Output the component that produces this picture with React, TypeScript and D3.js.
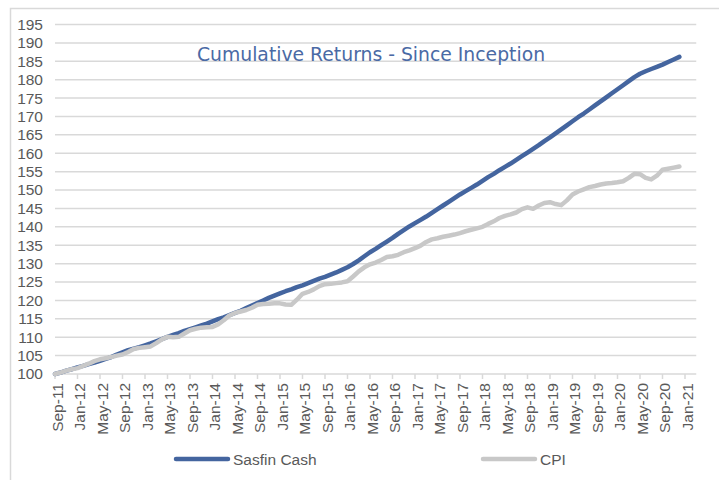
import * as d3 from "d3";

// month index 0 = Sep-11, last point = Dec-20
const sasfinCash = [
  100.0, 100.4, 100.9, 101.3, 101.8, 102.2, 102.7, 103.1, 103.6, 104.1, 104.6, 105.3,
  105.9, 106.5, 106.9, 107.3, 107.8, 108.3, 108.9, 109.5, 110.1, 110.6, 111.1, 111.7,
  112.2, 112.7, 113.2, 113.7, 114.3, 114.9, 115.4, 116.0, 116.6, 117.2, 117.9, 118.6,
  119.3, 120.0, 120.7, 121.3, 121.9, 122.5, 123.0, 123.6, 124.1, 124.7, 125.3, 125.9,
  126.4, 127.0, 127.6, 128.3, 129.0, 129.9, 130.9, 132.0, 133.1, 134.0, 135.0, 136.0,
  137.0, 138.1, 139.1, 140.1, 141.0, 141.9, 142.8, 143.8, 144.8, 145.8, 146.8, 147.8,
  148.8, 149.7, 150.6, 151.5, 152.5, 153.5, 154.4, 155.4, 156.3, 157.2, 158.2, 159.2,
  160.2, 161.2, 162.2, 163.3, 164.3, 165.4, 166.5, 167.6, 168.7, 169.8, 170.8, 171.9,
  173.0, 174.1, 175.2, 176.3, 177.4, 178.5, 179.6, 180.7, 181.6, 182.3, 182.9, 183.5,
  184.1, 184.8, 185.5, 186.2,
];

const cpi = [
  100.0, 100.4, 100.9, 101.3, 101.6, 102.2, 102.8, 103.5, 104.0, 104.3, 104.6, 105.0,
  105.3, 106.0, 106.8, 107.1, 107.3, 107.5, 108.4, 109.4, 110.1, 110.0, 110.1, 111.0,
  111.9, 112.3, 112.6, 112.7, 112.8, 113.5, 114.6, 115.9, 116.6, 117.0, 117.4, 118.0,
  118.8, 119.0, 119.1, 119.2, 119.2, 118.9, 118.8, 120.2, 121.8, 122.3, 123.0, 123.9,
  124.4, 124.5, 124.7, 124.9, 125.2, 126.5, 127.9, 129.0, 129.8, 130.3, 131.0, 131.8,
  132.0, 132.4, 133.1, 133.6, 134.2, 134.9, 135.9, 136.6, 136.9, 137.3, 137.6, 137.9,
  138.3, 138.8, 139.2, 139.6, 140.0, 140.8, 141.5, 142.4, 143.0, 143.4, 143.9, 144.8,
  145.3, 144.9, 145.8, 146.5, 146.7, 146.2, 145.9, 147.2, 148.8, 149.6, 150.2, 150.8,
  151.1, 151.5, 151.8, 151.9, 152.1, 152.4, 153.3, 154.4, 154.3, 153.3, 152.9, 153.9,
  155.5, 155.8, 156.1, 156.4,
];

// one label every 4 months
const xTickLabels = [
  "Sep-11", "Jan-12", "May-12", "Sep-12", "Jan-13", "May-13", "Sep-13", "Jan-14",
  "May-14", "Sep-14", "Jan-15", "May-15", "Sep-15", "Jan-16", "May-16", "Sep-16",
  "Jan-17", "May-17", "Sep-17", "Jan-18", "May-18", "Sep-18", "Jan-19", "May-19",
  "Sep-19", "Jan-20", "May-20", "Sep-20", "Jan-21",
];

const yTicks = d3.range(100, 196, 5);

const BLUE = "#44659f";
const GREY = "#c8c8c8";
const GRID = "#d9d9d9";
const AXIS_FONT = "'Liberation Sans', Arial, sans-serif";

const width = 719;
const height = 480;

export default function App() {
  const x = d3.scaleLinear().domain([0, 114]).range([55, 696.25]);
  const y = d3.scaleLinear().domain([100, 195]).range([374, 24.5]);

  const line = d3
    .line<number>()
    .x((_, i) => x(i))
    .y((d) => y(d));

  return (
    <svg
      width={width}
      height={height}
      style={{ position: "absolute", left: 0, top: 0, background: "#fff" }}
    >
      <rect x={10.5} y={8.5} width={720} height={480} fill="#fff" stroke={GRID} strokeWidth={1.5} />

      {yTicks.map((t) => (
        <g key={t}>
          <line x1={x(0)} x2={x(114)} y1={y(t)} y2={y(t)} stroke={GRID} strokeWidth={1.5} />
          <text
            x={43}
            y={y(t)}
            dy="0.35em"
            textAnchor="end"
            fontFamily={AXIS_FONT}
            fontSize={15.5}
            fill="#595959"
          >
            {t}
          </text>
        </g>
      ))}

      {xTickLabels.map((lab, k) => {
        const tx = x(k * 4);
        return (
          <g key={lab}>
            <line x1={tx} x2={tx} y1={y(100)} y2={y(100) + 5} stroke={GRID} strokeWidth={1.5} />
            <text
              transform={`translate(${tx + 2.5},383) rotate(-90)`}
              dy="0.35em"
              textAnchor="end"
              fontFamily={AXIS_FONT}
              fontSize={15.5}
              fill="#595959"
            >
              {lab}
            </text>
          </g>
        );
      })}

      <text
        x={371}
        y={60.5}
        textAnchor="middle"
        fontFamily="'DejaVu Sans', Verdana, sans-serif"
        fontSize={18.8}
        fill="#4a6aa5"
      >
        Cumulative Returns - Since Inception
      </text>

      <path
        d={line(sasfinCash) ?? ""}
        fill="none"
        stroke={BLUE}
        strokeWidth={4.5}
        strokeLinecap="round"
        strokeLinejoin="round"
      />
      <path
        d={line(cpi) ?? ""}
        fill="none"
        stroke={GREY}
        strokeWidth={4.5}
        strokeLinecap="round"
        strokeLinejoin="round"
      />

      <g fontFamily={AXIS_FONT} fontSize={15.5} fill="#595959">
        <line x1={176} x2={228} y1={459} y2={459} stroke={BLUE} strokeWidth={4.5} strokeLinecap="round" />
        <text x={233} y={464.5}>Sasfin Cash</text>
        <line x1={483} x2={535} y1={459} y2={459} stroke={GREY} strokeWidth={4.5} strokeLinecap="round" />
        <text x={540} y={464.5}>CPI</text>
      </g>
    </svg>
  );
}
